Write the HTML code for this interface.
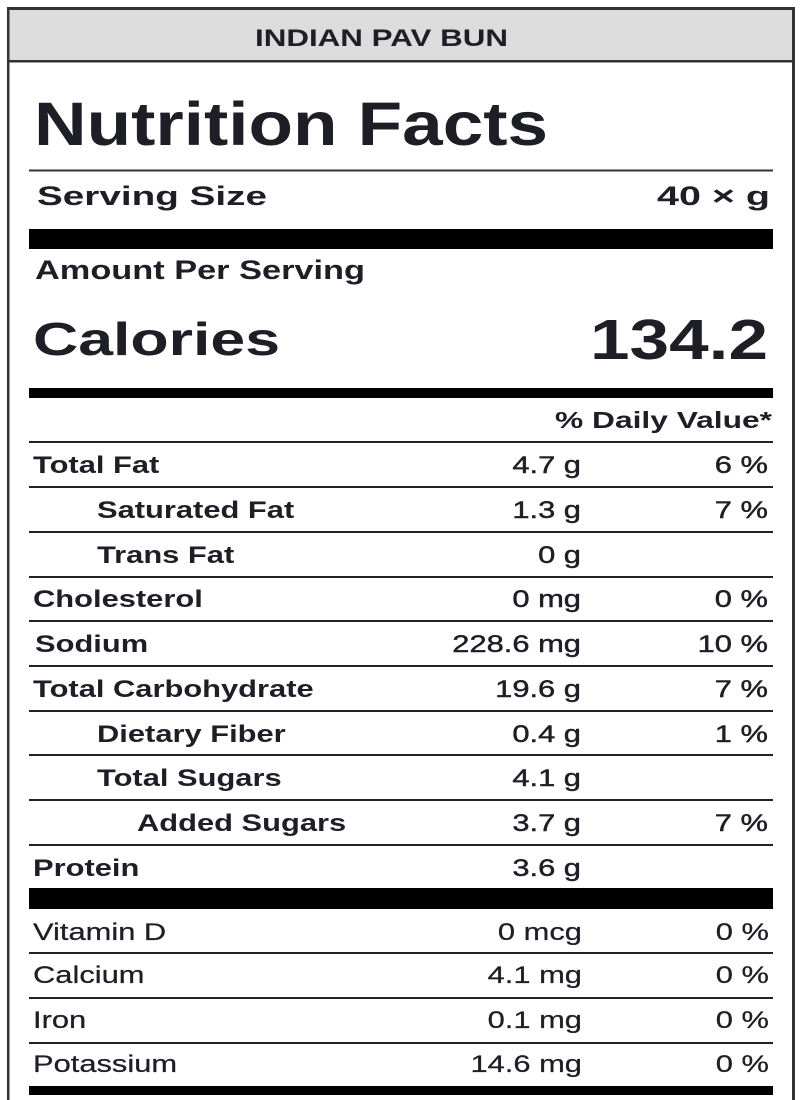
<!DOCTYPE html>
<html>
<head>
<meta charset="utf-8">
<style>
  html, body { margin: 0; padding: 0; background: #fff; }
  body { width: 800px; height: 1100px; overflow: hidden; }
  svg { display: block; }
  text { font-family: "Liberation Sans", Arial, sans-serif; fill: #1e1e26; }
  .b { font-weight: bold; }
  .r { font-weight: normal; stroke: #1e1e26; stroke-width: 0.45; }
  .rl { font-weight: normal; stroke: #1e1e26; stroke-width: 0.25; }
</style>
</head>
<body>
<svg width="800" height="1100" viewBox="0 0 800 1100" xmlns="http://www.w3.org/2000/svg">
  <!-- background -->
  <rect x="0" y="0" width="800" height="1100" fill="#fff"/>
  <!-- header band -->
  <rect x="9" y="9" width="784" height="52" fill="#dcdcdc"/>
  <rect x="9" y="60" width="784" height="2.5" fill="#333"/>
  <!-- outer border -->
  <rect x="7" y="7" width="787" height="3" fill="#333"/>
  <rect x="7" y="7" width="2.5" height="1093" fill="#333"/>
  <rect x="792" y="7" width="3" height="1093" fill="#333"/>

  <!-- header text -->
  <text class="b" x="255" y="46" font-size="24" textLength="253" lengthAdjust="spacingAndGlyphs">INDIAN PAV BUN</text>

  <!-- title -->
  <text class="b" x="34" y="145" font-size="61" textLength="514" lengthAdjust="spacingAndGlyphs">Nutrition Facts</text>
  <rect x="29" y="169.5" width="744" height="2" fill="#333"/>

  <!-- serving size -->
  <text class="b" x="37" y="205" font-size="27" textLength="230" lengthAdjust="spacingAndGlyphs">Serving Size</text>
  <text class="b" x="657" y="205" font-size="27" textLength="113" lengthAdjust="spacingAndGlyphs">40 × g</text>
  <rect x="29" y="229" width="744" height="20" fill="#000"/>

  <!-- amount per serving -->
  <text class="b" x="35" y="279" font-size="27" textLength="330" lengthAdjust="spacingAndGlyphs">Amount Per Serving</text>

  <!-- calories -->
  <text class="b" x="33" y="355" font-size="46" textLength="247" lengthAdjust="spacingAndGlyphs">Calories</text>
  <text class="b" x="590" y="359" font-size="57" textLength="178" lengthAdjust="spacingAndGlyphs">134.2</text>
  <rect x="29" y="388" width="744" height="10" fill="#000"/>

  <!-- daily value header -->
  <text class="b" x="555" y="428" font-size="23" textLength="217" lengthAdjust="spacingAndGlyphs">% Daily Value*</text>

  <!-- row lines -->
  <g fill="#222">
    <rect x="29" y="441" width="744" height="2"/>
    <rect x="29" y="486" width="744" height="2"/>
    <rect x="29" y="531" width="744" height="2"/>
    <rect x="29" y="576" width="744" height="2"/>
    <rect x="29" y="620" width="744" height="2"/>
    <rect x="29" y="665" width="744" height="2"/>
    <rect x="29" y="710" width="744" height="2"/>
    <rect x="29" y="754" width="744" height="2"/>
    <rect x="29" y="799" width="744" height="2"/>
    <rect x="29" y="844" width="744" height="2"/>
    <rect x="29" y="952" width="744" height="2"/>
    <rect x="29" y="997" width="744" height="2"/>
    <rect x="29" y="1042" width="744" height="2"/>
  </g>
  <rect x="29" y="888" width="744" height="21" fill="#000"/>
  <rect x="29" y="1086" width="744" height="9" fill="#000"/>

  <!-- rows: horizontally stretched group (x coords divided by 1.26) -->
  <g transform="scale(1.26,1)" font-size="24.5">
    <!-- labels -->
    <text class="b" x="26.2" y="473">Total Fat</text>
    <text class="b" x="77" y="518">Saturated Fat</text>
    <text class="b" x="77" y="563">Trans Fat</text>
    <text class="b" x="26.2" y="607">Cholesterol</text>
    <text class="b" x="27.8" y="652">Sodium</text>
    <text class="b" x="26.2" y="697">Total Carbohydrate</text>
    <text class="b" x="77" y="742">Dietary Fiber</text>
    <text class="b" x="77" y="786">Total Sugars</text>
    <text class="b" x="108.7" y="831">Added Sugars</text>
    <text class="b" x="26.2" y="876">Protein</text>

    <!-- values -->
    <g text-anchor="end">
      <text class="r" x="461.1" y="473">4.7 g</text>
      <text class="r" x="461.1" y="518">1.3 g</text>
      <text class="r" x="461.1" y="563">0 g</text>
      <text class="r" x="461.1" y="607">0 mg</text>
      <text class="r" x="461.1" y="652">228.6 mg</text>
      <text class="r" x="461.1" y="697">19.6 g</text>
      <text class="r" x="461.1" y="742">0.4 g</text>
      <text class="r" x="461.1" y="786">4.1 g</text>
      <text class="r" x="461.1" y="831">3.7 g</text>
      <text class="r" x="461.1" y="876">3.6 g</text>

      <text class="r" x="609.5" y="473">6 %</text>
      <text class="r" x="609.5" y="518">7 %</text>
      <text class="r" x="609.5" y="607">0 %</text>
      <text class="r" x="609.5" y="652">10 %</text>
      <text class="r" x="609.5" y="697">7 %</text>
      <text class="r" x="609.5" y="742">1 %</text>
      <text class="r" x="609.5" y="831">7 %</text>
    </g>

    <!-- vitamins / minerals -->
    <text class="rl" x="26.2" y="940">Vitamin D</text>
    <text class="rl" x="26.2" y="983">Calcium</text>
    <text class="rl" x="26.2" y="1028">Iron</text>
    <text class="rl" x="26.2" y="1072">Potassium</text>
    <g text-anchor="end">
      <text class="rl" x="461.9" y="940">0 mcg</text>
      <text class="rl" x="461.9" y="983">4.1 mg</text>
      <text class="rl" x="461.9" y="1028">0.1 mg</text>
      <text class="rl" x="461.9" y="1072">14.6 mg</text>
      <text class="rl" x="610.3" y="940">0 %</text>
      <text class="rl" x="610.3" y="983">0 %</text>
      <text class="rl" x="610.3" y="1028">0 %</text>
      <text class="rl" x="610.3" y="1072">0 %</text>
    </g>
  </g>
</svg>
</body>
</html>
